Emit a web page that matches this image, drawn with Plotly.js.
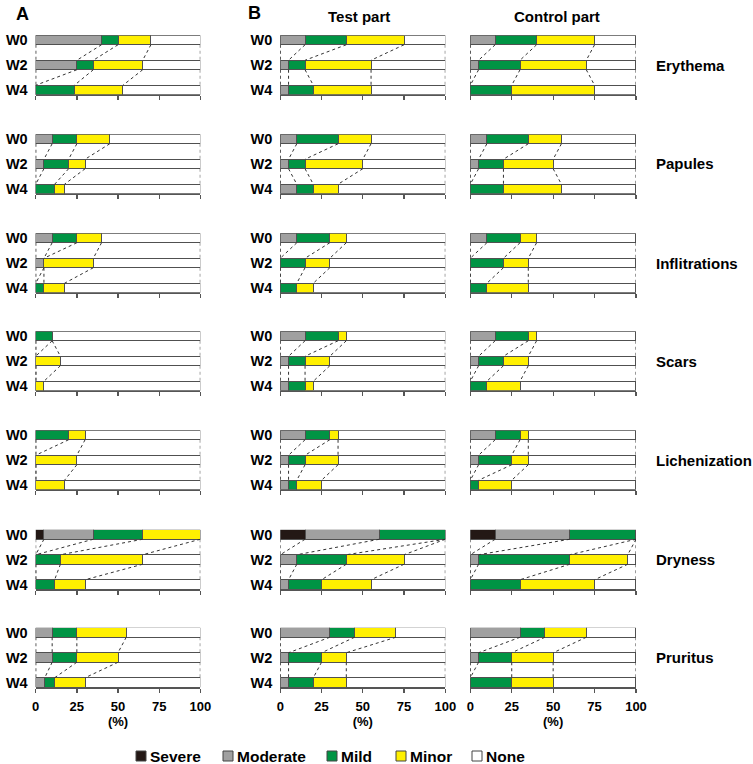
<!DOCTYPE html>
<html>
<head>
<meta charset="utf-8">
<script src="https://cdn.plot.ly/plotly-3.0.1.min.js"></script>
<style>
  html, body { margin: 0; padding: 0; background: #fff; }
  #chart { width: 753px; height: 764px; }
</style>
</head>
<body>
<div id="chart"></div>
<script>
// symptom rows, weeks and severity grades
const rows = ["Erythema", "Papules", "Inflitrations", "Scars", "Lichenization", "Dryness", "Pruritus"];
const weeks = ["W0", "W2", "W4"];
const grades = ["Severe", "Moderate", "Mild", "Minor", "None"];

// percentages per row, as [W0, W2, W4]
// A
const aSevere   = [[0,0,0],[0,0,0],[0,0,0],[0,0,0],[0,0,0],[5,0,0],[0,0,0]];
const aModerate = [[40,25,0],[10,5,0],[10,5,0],[0,0,0],[0,0,0],[30,0,0],[10,10,5.5]];
const aMild     = [[10,10,23.5],[15,15,11.5],[15,0,5],[10,0,0],[20,0,0],[30,15,11.5],[15,15,6]];
const aMinor    = [[20,30,29.5],[20,10,6],[15,30,12.5],[0,15,5],[10,25,17.5],[35,50,18.5],[30,25,18.5]];
// B - Test part
const tSevere   = [[0,0,0],[0,0,0],[0,0,0],[0,0,0],[0,0,0],[15,0,0],[0,0,0]];
const tModerate = [[15,5,5],[10,5,10],[10,0,0],[15,5,5],[15,5,5],[45,10,5],[30,5,5]];
const tMild     = [[25,10,15],[25,10,10],[20,15,10],[20,10,10],[15,10,5],[40,30,20],[15,20,15]];
const tMinor    = [[35,40,35],[20,35,15],[10,15,10],[5,15,5],[5,20,15],[0,35,30],[25,15,20]];
// B - Control part
const cSevere   = [[0,0,0],[0,0,0],[0,0,0],[0,0,0],[0,0,0],[15,0,0],[0,0,0]];
const cModerate = [[15,5,0],[10,5,0],[10,0,0],[15,5,0],[15,5,0],[45,5,0],[30,5,0]];
const cMild     = [[25,25,25],[25,15,20],[20,20,10],[20,15,10],[15,20,5],[40,55,30],[15,20,25]];
const cMinor    = [[35,40,50],[20,30,35],[10,15,25],[5,15,20],[5,10,20],[0,35,45],[25,25,25]];

const colors = ["#231815", "#a0a0a0", "#009444", "#fff000", "#ffffff"];
const groups = [
  [aSevere, aModerate, aMild, aMinor],
  [tSevere, tModerate, tMild, tMinor],
  [cSevere, cModerate, cMild, cMinor],
];

const W = 753, H = 764;
const FONT = "Liberation Sans, Arial, sans-serif";
const px = v => v / W;
const py = v => 1 - v / H;

// panel placement (pixels)
const colX = [[35.7, 200.3], [280.3, 445.3], [470.3, 636]];
const rowTop = [40, 139, 238, 336, 435, 534.5, 632.5]; // centre of W0 bar
const step = 25; // px between bar centres
const barW = 0.38;
const yPos = [2, 1, 0];

const traces = [];
const shapes = [];
const annotations = [];
const layout = {
  width: W, height: H,
  margin: {l: 0, r: 0, t: 0, b: 0},
  paper_bgcolor: "#fff", plot_bgcolor: "rgba(0,0,0,0)",
  barmode: "stack",
  showlegend: false,
  font: {family: FONT, color: "#000", weight: "bold"},
};

for (let r = 0; r < rows.length; r++) {
  for (let c = 0; c < 3; c++) {
    const k = r * 3 + c + 1;
    const xa = k === 1 ? "x" : "x" + k;
    const ya = k === 1 ? "y" : "y" + k;
    const bottom = r === rows.length - 1;

    layout[k === 1 ? "xaxis" : "xaxis" + k] = {
      domain: [px(colX[c][0]), px(colX[c][1])],
      anchor: ya, range: [0, 100],
      tickvals: [0, 25, 50, 75, 100],
      ticks: "outside", ticklen: 4, tickwidth: 1.3, tickcolor: "#555",
      showline: true, linecolor: "#555", linewidth: 1.3,
      showgrid: false, zeroline: false,
      showticklabels: bottom,
      ticklabelstandoff: 3,
      tickfont: {family: FONT, size: 13, weight: "bold"},
      title: bottom ? {text: "(%)", standoff: 2, font: {family: FONT, size: 13, weight: "bold"}} : {text: ""},
      fixedrange: true,
    };
    layout[k === 1 ? "yaxis" : "yaxis" + k] = {
      domain: [py(rowTop[r] + (2 + barW / 2) * step), py(rowTop[r] - barW / 2 * step)],
      anchor: xa, range: [-barW / 2, 2 + barW / 2],
      tickvals: yPos, ticktext: weeks,
      showticklabels: c < 2, ticks: "", ticklabelstandoff: 7,
      showline: false, showgrid: false, zeroline: false,
      tickfont: {family: FONT, size: 14.5, weight: "bold"},
      fixedrange: true,
    };

    const vals = groups[c].map(arr => arr[r]);
    const none = weeks.map((w, j) => 100 - vals.reduce((s, v) => s + v[j], 0));
    vals.push(none);

    vals.forEach((v, g) => {
      traces.push({
        type: "bar", orientation: "h",
        x: v, y: yPos, width: barW,
        name: grades[g],
        marker: {color: colors[g], line: {color: "#505050", width: 1}},
        xaxis: xa, yaxis: ya,
        hovertemplate: rows[r] + " " + "%{y}: %{x}%<extra>" + grades[g] + "</extra>",
      });
    });

    // cumulative boundaries for the dashed connectors
    const cum = weeks.map((w, j) => {
      const out = [0];
      let s = 0;
      for (let g = 0; g < 4; g++) { s += vals[g][j]; out.push(s); }
      out.push(100);
      return out;
    });
    for (let j = 0; j < 2; j++) {
      cum[j].forEach((b, i) => {
        shapes.push({
          type: "line", xref: xa, yref: ya,
          x0: b, y0: yPos[j] - barW / 2,
          x1: cum[j + 1][i], y1: yPos[j + 1] + barW / 2,
          line: {color: "#333", width: 1, dash: "dot"},
        });
      });
    }
  }
  // symptom label on the right
  annotations.push({
    xref: "paper", yref: "paper", x: px(654), y: py(rowTop[r] + step),
    xanchor: "left", yanchor: "middle", showarrow: false,
    text: rows[r], font: {family: FONT, size: 15, weight: "bold"},
  });
}

// panel letters and headings
[["A", 14, 14, "left", 18], ["B", 246, 13, "left", 18],
 ["Test part", 358.5, 16, "center", 15], ["Control part", 556.7, 16, "center", 15]].forEach(a => {
  annotations.push({
    xref: "paper", yref: "paper", x: px(a[1]), y: py(a[2]),
    xanchor: a[3], yanchor: "middle", showarrow: false,
    text: a[0], font: {family: FONT, size: a[4], weight: "bold"},
  });
});

// legend
const legX = [136, 223, 327, 396, 472];
grades.forEach((g, i) => {
  shapes.push({
    type: "rect", xref: "paper", yref: "paper",
    x0: px(legX[i]), x1: px(legX[i] + 10), y0: py(761), y1: py(751),
    fillcolor: colors[i], line: {color: "#444", width: 1},
  });
  annotations.push({
    xref: "paper", yref: "paper", x: px(legX[i] + 12), y: py(756),
    xanchor: "left", yanchor: "middle", showarrow: false,
    text: g, font: {family: FONT, size: 15.5, weight: "bold"},
  });
});

layout.shapes = shapes;
layout.annotations = annotations;

Plotly.newPlot("chart", traces, layout, {displayModeBar: false, staticPlot: true});
</script>
</body>
</html>
